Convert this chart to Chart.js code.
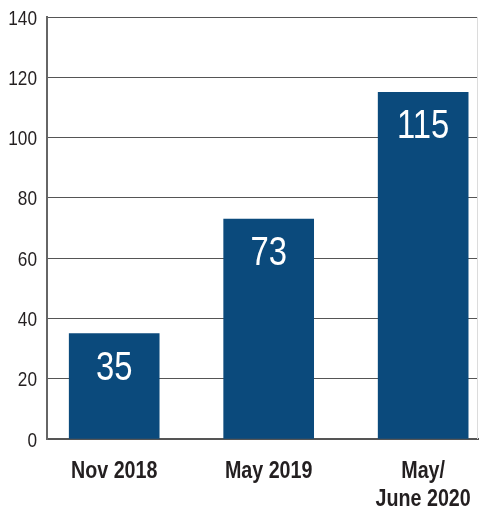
<!DOCTYPE html>
<html>
<head>
<meta charset="utf-8">
<script src="https://cdn.jsdelivr.net/npm/chart.js@4"></script>
<style>
  html, body { margin: 0; padding: 0; background: #fff; }
  #wrap { width: 479px; height: 510px; position: relative; }
</style>
</head>
<body>
<div id="wrap"><canvas id="c" width="479" height="510"></canvas></div>
<script>
const categories = ['Nov 2018', 'May 2019', ['May/', 'June 2020']];
const values = [35, 73, 115];
const yTicks = [0, 20, 40, 60, 80, 100, 120, 140];

const FONT = '"Liberation Sans", Arial, sans-serif';
const NARROW = 0.82;           // horizontal squeeze giving a narrow face
const INK = '#231f20';
const BAR = '#0b4a7c';

// draw a string with a narrow look by compressing it horizontally
function narrowText(ctx, text, x, y, align) {
  ctx.save();
  ctx.translate(x, y);
  ctx.scale(NARROW, 1);
  ctx.textAlign = align;
  ctx.fillText(text, 0, 0);
  ctx.restore();
}

// axis labels (y ticks and category names) in narrow type
const axisText = {
  id: 'axisText',
  afterDraw(chart) {
    const ctx = chart.ctx;
    const xs = chart.scales.x, ys = chart.scales.y;
    ctx.save();
    ctx.fillStyle = INK;
    ctx.textBaseline = 'alphabetic';
    ctx.font = '21px ' + FONT;
    ys.ticks.forEach(t => {
      const y = ys.getPixelForValue(t.value);
      narrowText(ctx, String(t.value), ys.right - 10, y + 7.5, 'right');
    });
    ctx.font = 'bold 24px ' + FONT;
    categories.forEach((c, i) => {
      const x = xs.getPixelForValue(i);
      const lines = Array.isArray(c) ? c : [c];
      lines.forEach((line, k) => {
        narrowText(ctx, line, x, xs.top + 39 + k * 28, 'center');
      });
    });
    ctx.restore();
  }
};

// white value labels inside the top of each bar
const barValues = {
  id: 'barValues',
  afterDatasetsDraw(chart) {
    const ctx = chart.ctx;
    const meta = chart.getDatasetMeta(0);
    ctx.save();
    ctx.fillStyle = '#ffffff';
    ctx.font = '40px ' + FONT;
    ctx.textBaseline = 'alphabetic';
    meta.data.forEach((bar, i) => {
      narrowText(ctx, String(values[i]), bar.x, bar.y + 46, 'center');
    });
    ctx.restore();
  }
};

// faint right edge of the plot frame
const rightEdge = {
  id: 'rightEdge',
  beforeDatasetsDraw(chart) {
    const { ctx, chartArea } = chart;
    ctx.save();
    ctx.strokeStyle = '#dcdcdc';
    ctx.lineWidth = 1;
    ctx.beginPath();
    ctx.moveTo(chartArea.right - 0.5, chartArea.top);
    ctx.lineTo(chartArea.right - 0.5, chartArea.bottom);
    ctx.stroke();
    ctx.restore();
  }
};

new Chart(document.getElementById('c'), {
  type: 'bar',
  data: {
    datasets: [{
      data: values.map((v, i) => ({ x: i, y: v })),
      backgroundColor: BAR,
      borderWidth: 0,
      barThickness: 90
    }]
  },
  options: {
    responsive: false,
    animation: false,
    events: [],
    layout: { padding: { top: 17, right: 1, left: 0, bottom: 0 } },
    plugins: { legend: { display: false }, tooltip: { enabled: false } },
    scales: {
      x: {
        type: 'linear',
        offset: false,
        min: -0.435,
        max: 2.355,
        afterFit(scale) { scale.height = 71; },
        grid: { display: false, offset: false },
        border: { display: true, color: '#555', width: 2 },
        ticks: { display: false, stepSize: 1, includeBounds: false }
      },
      y: {
        min: 0,
        max: 140,
        afterFit(scale) { scale.width = 47; },
        afterBuildTicks(scale) { scale.ticks = yTicks.map(v => ({ value: v })); },
        grid: { color: '#555', lineWidth: 1, drawTicks: false },
        border: { display: true, color: '#666', width: 2 },
        ticks: { display: false }
      }
    }
  },
  plugins: [barValues, rightEdge, axisText]
});
</script>
</body>
</html>
